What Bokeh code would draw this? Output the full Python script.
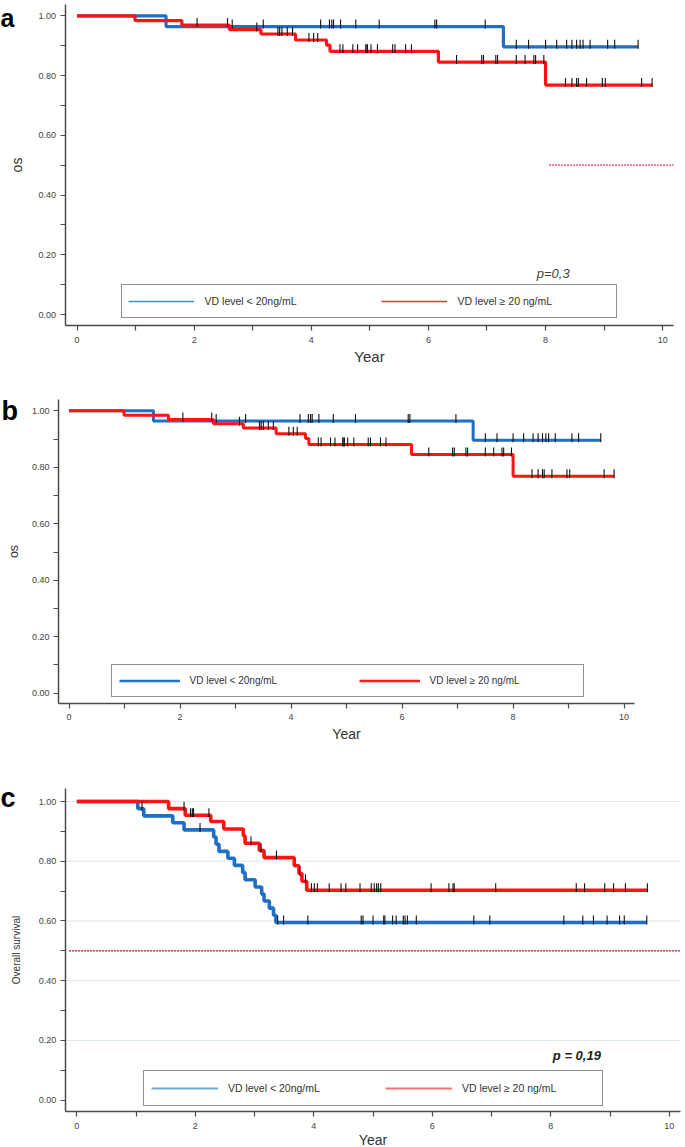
import numpy as np
from bokeh.plotting import figure
from bokeh.models import (Range1d, FixedTicker, NumeralTickFormatter, Legend,
                          LegendItem, Label)
from bokeh.layouts import column
from bokeh.embed import file_html
from bokeh.resources import INLINE

# ---------------- data ----------------
year_ticks = [0, 2, 4, 6, 8, 10]
year_minor_ticks = [1, 3, 5, 7, 9]
surv_ticks = [0.0, 0.2, 0.4, 0.6, 0.8, 1.0]
surv_minor_ticks = [0.1, 0.3, 0.5, 0.7, 0.9]
grid_ticks_c = [0.2, 0.4, 0.6, 0.8, 1.0]

label_low = "VD level < 20ng/mL"
label_high = "VD level \u2265 20 ng/mL"
x_title = "Year"
y_title_ab = "os"
y_title_c = "Overall survival"
panel_letters = ["a", "b", "c"]

# panels a and b (same cohort)
ab_low_event_years = [1.52, 7.28]
ab_low_surv = [0.964, 0.896]
ab_low_last_year = 9.58
ab_low_censor_years = [2.65, 3.18, 4.16, 4.31, 4.35, 4.38, 4.50, 4.76, 5.16, 6.11,
                       6.14, 6.97, 7.50, 7.71, 8.00, 8.19, 8.36, 8.45, 8.53, 8.59,
                       8.64, 8.76, 9.06, 9.18, 9.58]
ab_high_event_years = [0.99, 1.79, 2.60, 3.14, 3.73, 4.26, 4.32, 6.17, 8.00]
ab_high_surv = [0.984, 0.969, 0.954, 0.939, 0.919, 0.902, 0.881, 0.845, 0.768]
ab_high_last_year = 9.82
ab_high_censor_years = [2.05, 2.57, 3.07, 3.43, 3.46, 3.50, 3.59, 3.68, 3.96, 4.04,
                        4.11, 4.49, 4.54, 4.71, 4.79, 4.93, 4.95, 4.96, 5.02, 5.13,
                        5.39, 5.43, 5.61, 5.71, 6.48, 6.91, 6.94, 7.15, 7.18, 7.50,
                        7.65, 7.80, 7.83, 7.97, 8.34, 8.45, 8.53, 8.56, 8.70, 8.97,
                        9.02, 9.64, 9.82]
a_p_text = "p=0,3"
a_p_pos = (8.13, 0.137)
a_median_start = 8.06
median_level = 0.5

# panel c
c_low_event_years = [1.03, 1.13, 1.62, 1.81, 2.31, 2.35, 2.40, 2.55, 2.66, 2.80,
                     2.84, 3.01, 3.12, 3.16, 3.25, 3.32, 3.36]
c_low_surv = [0.976, 0.952, 0.929, 0.905, 0.881, 0.857, 0.833, 0.810, 0.786, 0.762,
              0.738, 0.714, 0.690, 0.667, 0.643, 0.619, 0.595]
c_low_last_year = 9.62
c_low_censor_years = [1.10, 2.08, 3.39, 3.49, 3.90, 4.80, 4.83, 5.00, 5.18, 5.20,
                      5.33, 5.39, 5.51, 5.54, 5.58, 5.73, 6.70, 6.97, 8.22, 8.54,
                      8.72, 8.95, 9.16, 9.24, 9.62]
c_high_event_years = [1.55, 1.83, 2.26, 2.48, 2.81, 2.84, 3.08, 3.16, 3.67, 3.75,
                      3.80, 3.88]
c_high_surv = [0.976, 0.954, 0.933, 0.908, 0.885, 0.860, 0.836, 0.812, 0.785, 0.759,
               0.733, 0.703]
c_high_last_year = 9.63
c_high_censor_years = [1.81, 1.92, 1.95, 1.97, 2.23, 2.94, 3.11, 3.37, 3.76, 3.86,
                       3.96, 4.01, 4.06, 4.26, 4.46, 4.54, 4.78, 4.97, 5.02, 5.06,
                       5.09, 5.13, 5.98, 6.28, 6.35, 6.37, 7.07, 8.43, 8.57, 8.91,
                       9.06, 9.26, 9.63]
c_p_text = "p = 0,19"
c_p_pos = (8.44, 0.150)
c_median_start = -0.13

# ---------------- helpers ----------------
FONT = "Liberation Sans"
BLUE = "#1f6fc4"
RED = "#ff1414"
W = 685


def km_xy(events, surv, last):
    xs = [0.0] + list(events) + [last]
    ys = [1.0] + list(surv) + [surv[-1]]
    return xs, ys


def surv_at(t, events, surv):
    v = 1.0
    for e, s in zip(events, surv):
        if e <= t:
            v = s
    return v


def make_panel(cfg):
    H = cfg["H"]
    g = cfg["geom"]  # pixel layout of the panel (canvas coordinates)

    def X(px):
        return (px - g["x0_px"]) / g["px_per_year"]

    def Y(py):
        return (g["zero_py"] - py) / g["px_per_unit"]

    p = figure(frame_width=W, frame_height=H, output_backend="svg",
               toolbar_location=None,
               x_range=Range1d(X(0), X(W)), y_range=Range1d(Y(H), Y(0)),
               min_border_left=0, min_border_right=0, min_border_top=0,
               min_border_bottom=0)
    try:
        p.frame_align = False
    except Exception:
        pass
    p.outline_line_color = None
    p.background_fill_color = "white"
    p.border_fill_color = "white"
    p.xgrid.visible = False
    p.ygrid.visible = False

    xa, ya = p.xaxis[0], p.yaxis[0]
    ya.fixed_location = X(g["yaxis_px"])
    ya.bounds = (Y(g["xaxis_py"]), Y(g["top_py"]))
    xa.fixed_location = Y(g["xaxis_py"])
    xa.bounds = (X(g["yaxis_px"]), X(g["right_px"]))

    for ax in (xa, ya):
        ax.axis_line_color = "#4a4a4a"
        ax.axis_line_width = 1.5
        ax.major_tick_line_color = "#4a4a4a"
        ax.minor_tick_line_color = "#4a4a4a"
        ax.major_tick_line_width = 1.2
        ax.minor_tick_line_width = 1.2
        ax.major_tick_in = 0
        ax.minor_tick_in = 0
        ax.major_tick_out = 5
        ax.minor_tick_out = 5
        ax.major_label_text_font = FONT
        ax.major_label_text_font_size = "9px"
        ax.major_label_text_color = "#444444"
        ax.axis_label_text_font = FONT
        ax.axis_label_text_font_style = "normal"
        ax.axis_label_text_color = "#333333"
    xa.ticker = FixedTicker(ticks=year_ticks, minor_ticks=year_minor_ticks)
    ya.ticker = FixedTicker(ticks=surv_ticks, minor_ticks=surv_minor_ticks)
    ya.formatter = NumeralTickFormatter(format="0.00")
    xa.major_label_standoff = cfg["xlab_so"][0]
    ya.major_label_standoff = 4
    xa.axis_label = x_title
    xa.axis_label_text_font_size = cfg["xlab_size"]
    xa.axis_label_standoff = cfg["xlab_so"][1]
    ya.axis_label = cfg["ylab"]
    ya.axis_label_text_font_size = cfg["ylab_size"]
    ya.axis_label_standoff = cfg["ylab_standoff"]

    x_left, x_right = X(g["yaxis_px"]), X(g["right_px"])

    # light horizontal grid (panel c)
    if cfg.get("grid"):
        p.segment(x0=[x_left] * len(grid_ticks_c), x1=[x_right] * len(grid_ticks_c),
                  y0=grid_ticks_c, y1=grid_ticks_c, line_color="#dbe8f1",
                  line_width=1)

    # reference line at 0.5
    if cfg.get("median_start") is not None:
        p.segment(x0=[cfg["median_start"]], x1=[x_right],
                  y0=[median_level], y1=[median_level],
                  line_color=cfg["median_color"], line_width=cfg["median_w"],
                  line_dash=cfg["median_dash"])

    dlo, dhi = 2.0 / g["px_per_unit"], 7.0 / g["px_per_unit"]
    groups = [(cfg["low"], BLUE), (cfg["high"], RED)]
    for (events, surv, last, cens), col in groups:
        xs, ys = km_xy(events, surv, last)
        p.step(xs, ys, mode="after", line_color=col, line_width=cfg["lw"])
    for (events, surv, last, cens), col in groups:
        lev = [surv_at(c, events, surv) for c in cens]
        p.segment(x0=cens, x1=cens, y0=[v - dlo for v in lev],
                  y1=[v + dhi for v in lev], line_color="#111111",
                  line_width=1.1)

    # legend
    lg = cfg["legend"]
    nan = np.array([np.nan])
    r_low = p.line(x=nan, y=nan, line_color=lg["c_low"], line_width=lg["lw"])
    r_high = p.line(x=nan, y=nan, line_color=lg["c_high"], line_width=lg["lw"])
    box_left, box_bottom = lg["box_px"]
    leg = Legend(items=[LegendItem(label=label_low, renderers=[r_low]),
                        LegendItem(label=label_high, renderers=[r_high])],
                 orientation="horizontal", location=(box_left, H - box_bottom),
                 margin=0, padding=lg["pad"], spacing=lg["sp"],
                 glyph_width=lg["gw"], glyph_height=lg["h"], label_height=lg["h"],
                 label_width=lg["lwid"], label_standoff=lg["so"],
                 label_text_font=FONT, label_text_font_size=lg["fs"],
                 label_text_color="#333333", border_line_color="#222222",
                 border_line_width=1.6, background_fill_color="white",
                 background_fill_alpha=1.0)
    p.add_layout(leg, "center")

    if cfg.get("p_text"):
        px, py = cfg["p_pos"]
        p.add_layout(Label(x=px, y=py, text=cfg["p_text"], text_align="center",
                           text_baseline="middle", text_font=FONT,
                           text_font_size=cfg["p_size"],
                           text_font_style=cfg["p_style"],
                           text_color=cfg["p_color"]))

    # panel letter
    cx, cy = cfg["letter_px"]
    p.add_layout(Label(x=X(cx), y=Y(cy), text=cfg["letter"], text_font=FONT,
                       text_font_style="bold", text_font_size=cfg["letter_size"],
                       text_baseline="alphabetic", text_align="left",
                       text_color="black"))
    return p


cfg_a = dict(H=372,
             geom=dict(x0_px=76.5, px_per_year=58.57, zero_py=314.0,
                       px_per_unit=298.7, yaxis_px=64.5, xaxis_py=325.0,
                       top_py=4.0, right_px=673.0),
             ylab=y_title_ab, ylab_size="14px", ylab_standoff=11,
             xlab_size="15px", xlab_so=(6, 2), lw=3.2,
             low=(ab_low_event_years, ab_low_surv, ab_low_last_year, ab_low_censor_years),
             high=(ab_high_event_years, ab_high_surv, ab_high_last_year, ab_high_censor_years),
             median_start=a_median_start, median_color="#ee3350", median_dash="2 1",
             median_w=1.2,
             legend=dict(box_px=(120.6, 318.0), pad=6, sp=24, gw=66, h=20, lwid=152,
                         so=11, fs="10.5px", lw=1.6, c_low="#3a8fd8",
                         c_high="#ff2a2a"),
             p_text=a_p_text, p_pos=a_p_pos, p_size="13px", p_style="italic",
             p_color="#444444", letter=panel_letters[0], letter_size="25px",
             letter_px=(0, 17))

cfg_b = dict(H=377,
             geom=dict(x0_px=68.6, px_per_year=55.5, zero_py=320.7,
                       px_per_unit=282.4, yaxis_px=58.1, xaxis_py=330.7,
                       top_py=27.3, right_px=633.7),
             ylab=y_title_ab, ylab_size="12.5px", ylab_standoff=8,
             xlab_size="14px", xlab_so=(6, 2), lw=3.0,
             low=(ab_low_event_years, ab_low_surv, ab_low_last_year, ab_low_censor_years),
             high=(ab_high_event_years, ab_high_surv, ab_high_last_year, ab_high_censor_years),
             median_start=None,
             legend=dict(box_px=(110.6, 325.3), pad=7, sp=23, gw=61, h=17, lwid=146,
                         so=10, fs="10px", lw=2.6, c_low="#1f73c8",
                         c_high="#ff1a1a"),
             p_text=None, letter=panel_letters[1], letter_size="27px",
             letter_px=(1, 38.7))

cfg_c = dict(H=398,
             geom=dict(x0_px=76.3, px_per_year=59.25, zero_py=350.7,
                       px_per_unit=298.7, yaxis_px=64.7, xaxis_py=362.0,
                       top_py=39.0, right_px=680.0),
             ylab=y_title_c, ylab_size="10px", ylab_standoff=14,
             xlab_size="14px", xlab_so=(6, 0), lw=3.6, grid=True,
             low=(c_low_event_years, c_low_surv, c_low_last_year, c_low_censor_years),
             high=(c_high_event_years, c_high_surv, c_high_last_year, c_high_censor_years),
             median_start=c_median_start, median_color="#b3132f", median_dash="2 1",
             median_w=1.3,
             legend=dict(box_px=(142.9, 356.7), pad=7, sp=24, gw=67, h=20, lwid=133,
                         so=10, fs="10.5px", lw=2.0, c_low="#6aaee0",
                         c_high="#ff7070"),
             p_text=c_p_text, p_pos=c_p_pos, p_size="13px", p_style="bold italic",
             p_color="#222222", letter=panel_letters[2], letter_size="27px",
             letter_px=(0, 48))

pa = make_panel(cfg_a)
pb = make_panel(cfg_b)
pc = make_panel(cfg_c)
layout = column(pa, pb, pc, spacing=0)

open("out.html", "w").write(file_html(layout, INLINE))
